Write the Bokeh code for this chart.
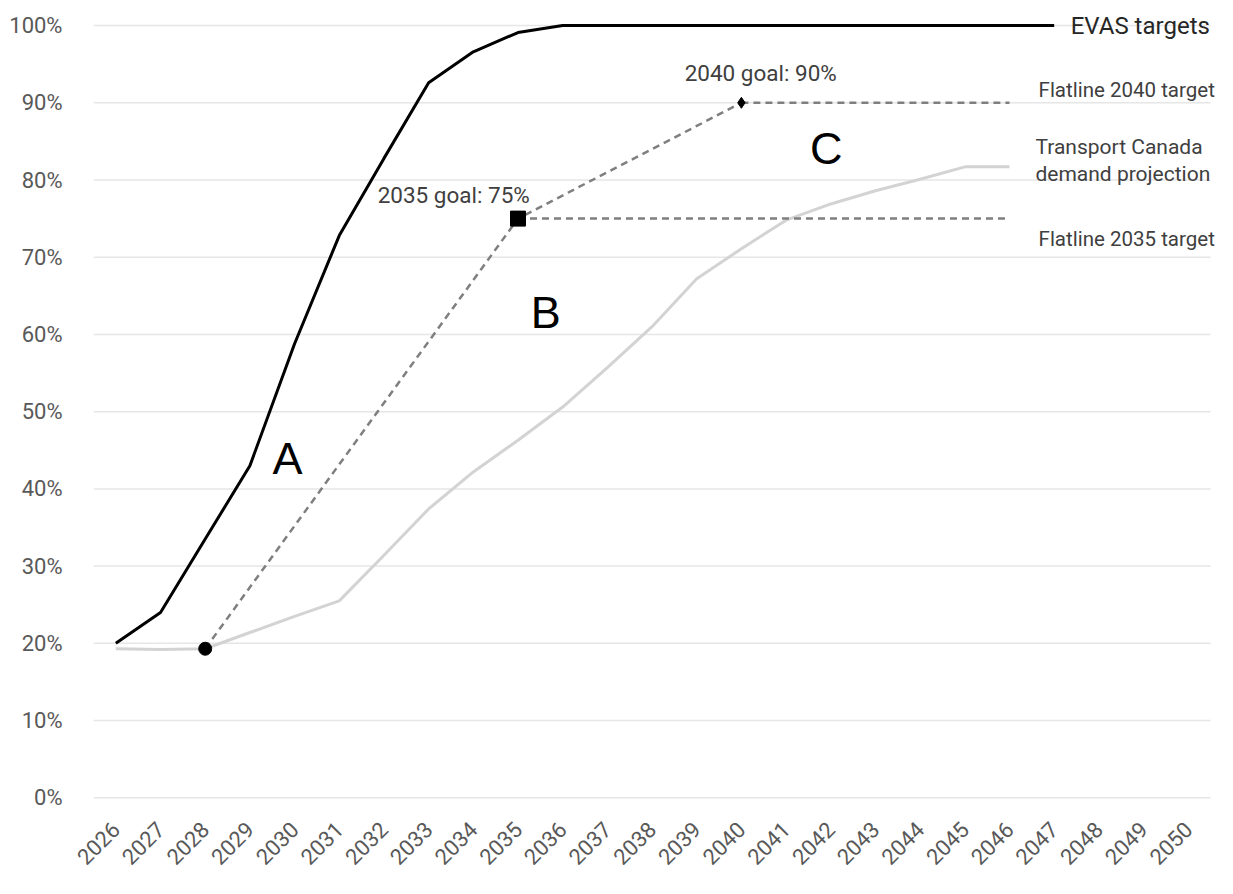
from bokeh.plotting import figure
from bokeh.models import Range1d, FixedTicker, PrintfTickFormatter, Label, ColumnDataSource
from bokeh.embed import file_html
from bokeh.resources import INLINE
import math

# values (percent of new sales)
years = list(range(2026, 2051))

evas_years = list(range(2026, 2048))
evas_targets = [20, 24, 33.5, 43, 58.8, 72.8, 82.8, 92.6, 96.6, 99.1, 100,
                100, 100, 100, 100, 100, 100, 100, 100, 100, 100, 100]

tc_years = list(range(2026, 2047))
tc_projection = [19.3, 19.2, 19.3, 21.4, 23.5, 25.5, 31.4, 37.4, 42.2, 46.3, 50.6,
                 55.7, 61.0, 67.2, 71.1, 74.8, 76.9, 78.6, 80.1, 81.7, 81.7]

goal_years = [2028, 2035, 2040]
goal_values = [19.3, 75, 90]

flat_2035_years = list(range(2035, 2047))
flat_2035 = [75] * len(flat_2035_years)
flat_2040_years = list(range(2040, 2047))
flat_2040 = [90] * len(flat_2040_years)

y_ticks = list(range(0, 101, 10))

FONT = "Roboto"
GREY_TXT = "#595959"
LBL_TXT = "#404040"

x_start, x_end = years[0] - 0.5, years[-1] + 0.5

# frame runs a little past 2050 so the right-hand labels are not clipped
p = figure(width=1217, height=878, output_backend="svg", toolbar_location=None,
           x_range=Range1d(x_start, 2050.655), y_range=Range1d(-1, 101.95),
           min_border_left=93, min_border_right=0, min_border_top=10, min_border_bottom=73)
p.outline_line_color = None
p.background_fill_color = "white"
p.border_fill_color = "white"

# horizontal gridlines drawn only over the category span (Excel style)
p.xgrid.grid_line_color = None
p.ygrid.grid_line_color = None
p.segment(x0=x_start, x1=x_end, y0=y_ticks, y1=y_ticks,
          line_color="#e6e6e6", line_width=1.5, level="underlay")

# axes
p.yaxis.ticker = FixedTicker(ticks=y_ticks)
p.yaxis.formatter = PrintfTickFormatter(format="%d%%")
p.xaxis.ticker = FixedTicker(ticks=years)
p.xaxis.formatter = PrintfTickFormatter(format="%d")
p.xaxis.major_label_orientation = math.pi / 4
for ax in (p.xaxis, p.yaxis):
    ax.axis_line_color = None
    ax.major_tick_line_color = None
    ax.minor_tick_line_color = None
    ax.major_label_text_color = GREY_TXT
    ax.major_label_text_font = FONT
    ax.major_label_text_font_size = "22px"
p.yaxis.major_label_standoff = 25
p.xaxis.major_label_standoff = 14

# series
p.line(tc_years, tc_projection, line_color="#d3d3d3", line_width=3)
p.line(evas_years, evas_targets, line_color="black", line_width=3)
p.line(goal_years, goal_values, line_color="#7f7f7f", line_width=2.5, line_dash="7 5")
p.line(flat_2035_years, flat_2035, line_color="#7f7f7f", line_width=2.5, line_dash="7 5")
p.line(flat_2040_years, flat_2040, line_color="#7f7f7f", line_width=2.5, line_dash="7 5")

goal_src = ColumnDataSource(dict(x=goal_years, y=goal_values,
                                 marker=["circle", "square", "diamond"],
                                 size=[13, 15, 11]))
p.scatter("x", "y", marker="marker", size="size", source=goal_src,
          fill_color="black", line_color="black")

# annotations
def add_label(x, y, text, size, color=LBL_TXT, align="left", font=FONT):
    p.add_layout(Label(x=x, y=y, text=text, text_font=font, text_font_size=size,
                       text_color=color, text_align=align, text_baseline="middle"))

add_label(2047.37, 99.9, "EVAS targets", "24px", color="#262626")
add_label(2046.65, 91.7, "Flatline 2040 target", "20.5px")
add_label(2046.58, 84.3, "Transport Canada", "21px")
add_label(2046.58, 80.8, "demand projection", "21px")
add_label(2046.65, 72.4, "Flatline 2035 target", "20.5px")
add_label(2031.86, 78.0, "2035 goal: 75%", "22.5px")
add_label(2038.73, 93.9, "2040 goal: 90%", "22.5px")

for x, y, t in [(2029.84, 43.9, "A"), (2035.62, 62.8, "B"), (2041.9, 84.1, "C")]:
    add_label(x, y, t, "45px", color="black", align="center", font="Liberation Sans")

open("out.html", "w").write(file_html(p, INLINE))
